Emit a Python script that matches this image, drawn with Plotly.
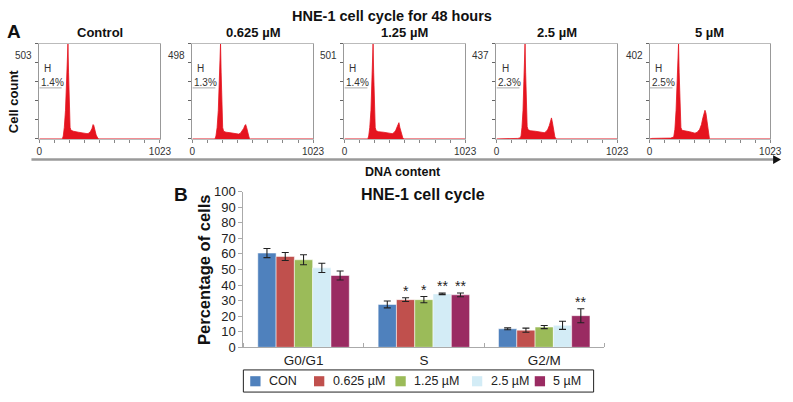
import plotly.graph_objects as go

W, H = 793, 402
FONT = "Arial, Liberation Sans, sans-serif"


def px(x):
    return x / W


def py(y):
    return 1 - y / H


# ---------------- Panel A data (flow cytometry histograms) ----------------
panel_titles = ["Control", "0.625 µM", "1.25 µM", "2.5 µM", "5 µM"]
max_counts = ["503", "498", "501", "437", "402"]
gate_labels = ["1.4%", "1.3%", "1.4%", "2.3%", "2.5%"]
gate_end_channel = [190, 195, 195, 195, 195]

# channel (0-1023) and relative cell count (fraction of peak)
ctrl_ch = [0, 195, 203, 212, 222, 231, 238, 243, 248, 254, 261, 269, 290, 330, 370, 405, 420, 435, 447, 456, 462, 470, 482, 495, 505, 1023]
ctrl_h = [0, 0, 0.03, 0.12, 0.3, 0.6, 0.92, 1.0, 0.7, 0.28, 0.12, 0.09, 0.08, 0.07, 0.06, 0.055, 0.06, 0.08, 0.11, 0.15, 0.14, 0.1, 0.04, 0.01, 0, 0]

c0625_ch = [0, 192, 200, 210, 220, 228, 235, 239, 244, 250, 257, 265, 285, 320, 360, 392, 408, 422, 435, 445, 452, 460, 470, 482, 492, 1023]
c0625_h = [0, 0, 0.03, 0.12, 0.3, 0.6, 0.9, 1.0, 0.7, 0.3, 0.12, 0.08, 0.07, 0.065, 0.055, 0.05, 0.06, 0.08, 0.11, 0.14, 0.15, 0.12, 0.05, 0.01, 0, 0]

c125_ch = [0, 198, 206, 215, 225, 233, 239, 243, 248, 254, 261, 269, 290, 330, 370, 405, 420, 435, 448, 456, 462, 470, 482, 495, 505, 1023]
c125_h = [0, 0, 0.03, 0.12, 0.3, 0.6, 0.9, 1.0, 0.7, 0.3, 0.12, 0.085, 0.075, 0.07, 0.06, 0.055, 0.065, 0.09, 0.13, 0.16, 0.17, 0.12, 0.05, 0.01, 0, 0]

c25_ch = [0, 150, 180, 200, 208, 216, 225, 232, 238, 242, 247, 253, 260, 268, 290, 330, 370, 405, 420, 435, 448, 458, 466, 473, 483, 495, 507, 1023]
c25_h = [0, 0, 0.005, 0.01, 0.03, 0.12, 0.3, 0.6, 0.9, 1.0, 0.7, 0.3, 0.13, 0.095, 0.085, 0.08, 0.07, 0.065, 0.075, 0.1, 0.14, 0.19, 0.22, 0.18, 0.08, 0.02, 0, 0]

c5_ch = [0, 20, 100, 180, 205, 215, 225, 233, 240, 246, 251, 258, 266, 275, 300, 340, 385, 405, 425, 440, 452, 462, 470, 478, 488, 497, 508, 1023]
c5_h = [0, 0.005, 0.007, 0.008, 0.02, 0.1, 0.3, 0.6, 0.9, 1.0, 0.7, 0.3, 0.12, 0.09, 0.085, 0.075, 0.06, 0.07, 0.1, 0.15, 0.22, 0.28, 0.30, 0.27, 0.18, 0.07, 0, 0]

hist_channels = [ctrl_ch, c0625_ch, c125_ch, c25_ch, c5_ch]
hist_heights = [ctrl_h, c0625_h, c125_h, c25_h, c5_h]
hist_x_ticks = [0, 128, 256, 384, 512, 640, 768, 896, 1023]
hist_x_labels = ["0", "", "", "", "", "", "", "", "1023"]

# ---------------- Panel B data (bar chart) ----------------
phases = ["G0/G1", "S", "G2/M"]
groups = ["CON", "0.625 µM", "1.25 µM", "2.5 µM", "5 µM"]
colors = ["#4F81BD", "#C0504D", "#9BBB59", "#D3ECF6", "#9A2B62"]

con_vals = [60.5, 27.5, 11.9]
con_err = [2.9, 2.2, 0.6]
c0625_vals = [58.3, 30.6, 11.0]
c0625_err = [2.6, 1.2, 1.3]
c125_vals = [56.2, 30.6, 13.0]
c125_err = [3.2, 2.0, 1.0]
c25_vals = [51.0, 34.3, 14.1]
c25_err = [3.0, 0.5, 2.6]
c5_vals = [46.1, 33.7, 20.3]
c5_err = [2.9, 1.2, 4.5]

con_sig = ["", "", ""]
c0625_sig = ["", "*", ""]
c125_sig = ["", "*", ""]
c25_sig = ["", "**", ""]
c5_sig = ["", "**", "**"]

bar_vals = [con_vals, c0625_vals, c125_vals, c25_vals, c5_vals]
bar_errs = [con_err, c0625_err, c125_err, c25_err, c5_err]
bar_sigs = [con_sig, c0625_sig, c125_sig, c25_sig, c5_sig]
y_ticks = list(range(0, 101, 10))

# ---------------- Layout geometry ----------------
panel_left_px = [37, 193, 348, 503, 659]
panel_w_px = 123
hist_top_px, hist_bot_px = 38, 137

fig = go.Figure()
layout = dict(
    width=W, height=H,
    margin=dict(l=0, r=0, t=0, b=0),
    paper_bgcolor="white", plot_bgcolor="white",
    showlegend=False,
    font=dict(family=FONT, color="#222"),
)
annotations = []
shapes = []


def note(text, x, y, size, xanchor="center", yanchor="middle", color="#111", **kw):
    d = dict(text=text, xref="paper", yref="paper", x=px(x), y=py(y),
             xanchor=xanchor, yanchor=yanchor, showarrow=False,
             font=dict(size=size, color=color, family=FONT))
    d.update(kw)
    annotations.append(d)


red = "#E5141F"
for i in range(5):
    n = "" if i == 0 else str(i + 1)
    xa, ya = "x" + n, "y" + n
    fig.add_trace(go.Scatter(
        x=hist_channels[i], y=hist_heights[i], mode="lines",
        line=dict(color=red, width=0.8), fill="tozeroy", fillcolor=red,
        xaxis=xa, yaxis=ya, hoverinfo="skip"))
    l = panel_left_px[i]
    layout["xaxis" + n] = dict(
        domain=[px(l), px(l + panel_w_px)], range=[0, 1023], anchor=ya,
        tickvals=hist_x_ticks, ticktext=hist_x_labels, ticks="outside", ticklen=3,
        tickcolor="#888", showline=True, linecolor="#bbb", mirror=True,
        showgrid=False, zeroline=False,
        tickfont=dict(size=10, color="#333", family=FONT))
    layout["yaxis" + n] = dict(
        domain=[py(hist_bot_px), py(hist_top_px)], range=[0, 1.0], anchor=xa,
        tickvals=[0, 0.2, 0.4, 0.6, 0.8, 1.0], showticklabels=False,
        ticks="outside", ticklen=3, tickcolor="#666",
        showline=True, linecolor="#999", mirror=True,
        showgrid=False, zeroline=False)
    # panel title
    note("<b>" + panel_titles[i] + "</b>", l + panel_w_px / 2, 27, 13)
    # max count label
    annotations.append(dict(
        text=max_counts[i], xref=xa + " domain", yref=ya + " domain",
        x=0, y=0.88, xanchor="right", yanchor="middle", xshift=-5, showarrow=False,
        font=dict(size=10, color="#333", family=FONT)))
    # gate H
    annotations.append(dict(
        text="H", xref=xa + " domain", yref=ya + " domain",
        x=0.025, y=0.74, xanchor="left", yanchor="middle", showarrow=False,
        font=dict(size=10, color="#333", family=FONT)))
    annotations.append(dict(
        text=gate_labels[i], xref=xa + " domain", yref=ya + " domain",
        x=0.0, y=0.59, xanchor="left", yanchor="middle", showarrow=False,
        font=dict(size=10, color="#333", family=FONT)))
    shapes.append(dict(
        type="line", xref=xa, yref=ya + " domain",
        x0=0, x1=gate_end_channel[i], y0=0.535, y1=0.535,
        line=dict(color="#aaa", width=1)))

# Bar chart
bargap = 0.24
for j in range(5):
    fig.add_trace(go.Bar(
        x=[0, 1, 2], y=bar_vals[j], name=groups[j],
        marker=dict(color=colors[j], line=dict(color="rgba(255,255,255,0.5)", width=1)),
        error_y=dict(type="data", array=bar_errs[j], color="#222", thickness=1.1, width=3.5),
        xaxis="x6", yaxis="y6", hoverinfo="skip"))
    bw = (1 - bargap) / 5
    for k in range(3):
        if bar_sigs[j][k]:
            annotations.append(dict(
                text=bar_sigs[j][k], xref="x6", yref="y6",
                x=k + (j - 2) * bw, y=bar_vals[j][k] + bar_errs[j][k],
                xanchor="center", yanchor="bottom", yshift=-3, showarrow=False,
                font=dict(size=14, color="#222", family=FONT)))

layout["barmode"] = "group"
layout["bargap"] = bargap
layout["bargroupgap"] = 0
layout["xaxis6"] = dict(
    domain=[px(245), px(613)], range=[-0.5, 2.5], anchor="y6",
    tickvals=[0, 1, 2], ticktext=phases, ticks="", showline=True,
    linecolor="#aaa", showgrid=False, zeroline=False,
    minor=dict(tickvals=[-0.5, 0.5, 1.5, 2.5], ticks="inside", ticklen=4, tickcolor="#aaa"),
    tickfont=dict(size=13.5, color="#222", family=FONT))
layout["yaxis6"] = dict(
    domain=[py(353.5), py(191.7)], range=[0, 100], anchor="x6",
    tickvals=y_ticks, ticks="outside", ticklen=4, tickcolor="#aaa",
    showline=True, linecolor="#aaa", showgrid=False, zeroline=False,
    tickfont=dict(size=13, color="#222", family=FONT))

# Manual legend for panel B
legend_sym_px = [252, 317, 400, 478, 542]
shapes.append(dict(type="rect", xref="paper", yref="paper",
                   x0=px(245), x1=px(602), y0=py(400), y1=py(377),
                   line=dict(color="#222", width=1)))
for j in range(5):
    x0 = legend_sym_px[j]
    shapes.append(dict(type="rect", xref="paper", yref="paper",
                       x0=px(x0), x1=px(x0 + 10.5), y0=py(394), y1=py(383.5),
                       fillcolor=colors[j], line=dict(width=0)))
    note(groups[j], x0 + 17, 388.5, 12.5, xanchor="left", color="#222")

# Texts
note("<b>A</b>", 2, 25, 19, xanchor="left")
note("<b>B</b>", 172, 195, 19, xanchor="left")
note("<b>HNE-1 cell cycle for 48 hours</b>", 397, 9, 14.5)
note("<b>Cell count</b>", 11, 98, 13, textangle=-90)
note("<b>DNA content</b>", 408, 171, 12.5)
note("<b>HNE-1 cell cycle</b>", 428.5, 195, 16)
note("<b>Percentage of cells</b>", 205, 273, 16.5, textangle=-90)

# DNA content arrow
shapes.append(dict(type="line", xref="paper", yref="paper",
                   x0=px(29), x1=px(786), y0=py(158.5), y1=py(158.5),
                   line=dict(color="#9a9a9a", width=2.5)))
shapes.append(dict(type="path", xref="paper", yref="paper",
                   path=f"M {px(785)} {py(154)} L {px(793)} {py(158.5)} L {px(785)} {py(163)} Z",
                   fillcolor="#111", line=dict(width=0)))

layout["annotations"] = annotations
layout["shapes"] = shapes
fig.update_layout(**layout)
fig.write_html(
    "out.html",
    config={"displayModeBar": False},
    post_script="document.body.style.margin='0px';document.body.style.overflow='hidden';",
)
